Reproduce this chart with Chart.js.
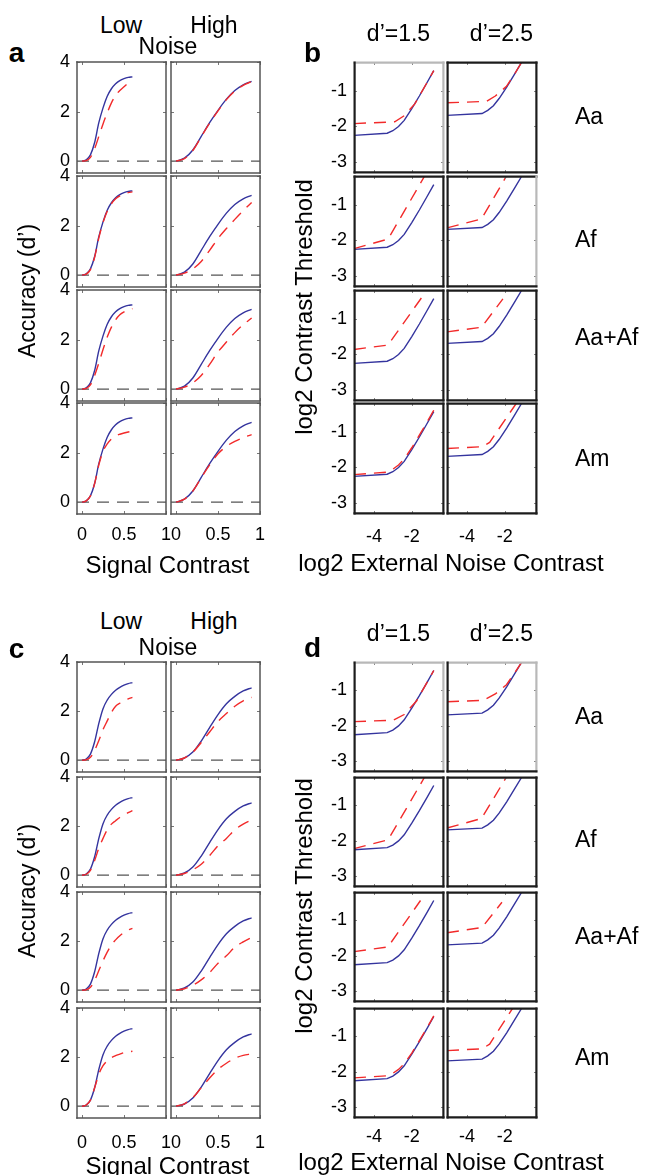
<!DOCTYPE html>
<html>
<head>
<meta charset="utf-8">
<script src="https://cdn.jsdelivr.net/npm/chart.js@4.4.0/dist/chart.umd.min.js"></script>
<style>
  body { margin: 0; background: #fff; }
  #fig { position: relative; width: 646px; height: 1175px; overflow: hidden; background: #fff;
         font-family: 'Liberation Sans', Arial, sans-serif; color: #000; }
  #fig canvas { position: absolute; }
  .t { position: absolute; white-space: nowrap; line-height: 1; transform: translate(-50%, -50%); }
</style>
</head>
<body>
<div id="fig"></div>
<script>
// ---- accuracy panels (a, c): x = signal contrast, y = d'
const sigLowX  = [0, 0.05, 0.1, 0.15, 0.2, 0.25, 0.3, 0.35, 0.4, 0.45, 0.5, 0.55, 0.6];
const sigHighX = [0, 0.1, 0.2, 0.3, 0.4, 0.5, 0.6, 0.7, 0.8, 0.9];

const aBlueLow  = [0, 0.05, 0.25, 0.75, 1.55, 2.15, 2.62, 2.92, 3.12, 3.25, 3.33, 3.38, 3.4];
const aBlueHigh = [0, 0.12, 0.45, 1.0, 1.55, 2.05, 2.5, 2.85, 3.08, 3.22];

const aRedLowAa    = [0, 0.02, 0.15, 0.5, 1.0, 1.5, 1.95, 2.35, 2.65, 2.85, 3.0, 3.15, 3.25];
const aRedHighAa   = [0, 0.1, 0.43, 0.98, 1.53, 2.03, 2.48, 2.83, 3.06, 3.21];
const aRedLowAf    = [0, 0.04, 0.22, 0.72, 1.5, 2.12, 2.58, 2.88, 3.08, 3.2, 3.28, 3.33, 3.36];
const aRedHighAf   = [0, 0.08, 0.25, 0.55, 1.0, 1.48, 1.88, 2.25, 2.6, 2.93];
const aRedLowAaAf  = [0, 0.03, 0.17, 0.55, 1.05, 1.6, 2.1, 2.5, 2.8, 3.0, 3.12, 3.2, 3.25];
const aRedHighAaAf = [0, 0.08, 0.25, 0.55, 1.0, 1.5, 1.9, 2.28, 2.6, 2.87];
const aRedLowAm    = [0, 0.05, 0.25, 0.75, 1.5, 2.05, 2.35, 2.55, 2.67, 2.74, 2.79, 2.83, 2.86];
const aRedHighAm   = [0, 0.12, 0.45, 0.98, 1.5, 1.95, 2.25, 2.45, 2.6, 2.72];

const cBlueLow  = [0, 0.05, 0.25, 0.75, 1.5, 2.1, 2.45, 2.68, 2.85, 2.97, 3.06, 3.12, 3.16];
const cBlueHigh = [0, 0.09, 0.33, 0.78, 1.33, 1.86, 2.3, 2.6, 2.82, 2.95];

const cRedLowAa    = [0, 0.02, 0.12, 0.4, 0.8, 1.25, 1.6, 1.95, 2.2, 2.32, 2.42, 2.5, 2.56];
const cRedHighAa   = [0, 0.09, 0.33, 0.72, 1.15, 1.58, 1.9, 2.2, 2.42, 2.56];
const cRedLowAf    = [0, 0.04, 0.2, 0.6, 1.1, 1.5, 1.85, 2.08, 2.22, 2.35, 2.45, 2.55, 2.63];
const cRedHighAf   = [0, 0.07, 0.22, 0.45, 0.8, 1.2, 1.5, 1.85, 2.08, 2.25];
const cRedLowAaAf  = [0, 0.02, 0.12, 0.4, 0.8, 1.2, 1.55, 1.85, 2.05, 2.22, 2.35, 2.45, 2.52];
const cRedHighAaAf = [0, 0.06, 0.2, 0.42, 0.72, 1.1, 1.4, 1.75, 1.97, 2.15];
const cRedLowAm    = [0, 0.05, 0.25, 0.75, 1.3, 1.65, 1.85, 1.98, 2.06, 2.12, 2.18, 2.21, 2.24];
const cRedHighAm   = [0, 0.1, 0.35, 0.75, 1.15, 1.5, 1.75, 1.95, 2.07, 2.13];

// ---- threshold panels (b, d): [log2 noise contrast, log2 threshold]
const thrBlue15 = [[-5.05, -2.25], [-3.3, -2.19], [-3.0, -2.12], [-2.7, -2.0], [-2.4, -1.83], [-2.0, -1.5], [-1.6, -1.15], [-1.2, -0.78], [-0.84, -0.44]];
const thrBlue25 = [[-5.05, -1.69], [-3.2, -1.64], [-2.9, -1.55], [-2.6, -1.42], [-2.3, -1.22], [-1.9, -0.9], [-1.5, -0.55], [-1.1, -0.2]];

const bRedAa15   = [[-5.05, -1.92], [-2.9, -1.87], [-2.4, -1.7], [-1.84, -1.37], [-1.2, -0.78], [-0.84, -0.44]];
const bRedAa25   = [[-5.05, -1.34], [-2.96, -1.3], [-2.5, -1.15], [-1.91, -0.88], [-1.5, -0.55], [-1.1, -0.2]];
const bRedAf15   = [[-5.05, -2.23], [-3.25, -1.96], [-1.32, -0.2]];
const bRedAf25   = [[-5.05, -1.65], [-3.23, -1.4], [-1.91, -0.2]];
const bRedAaAf15 = [[-5.05, -1.86], [-3.26, -1.74], [-1.49, -0.42]];
const bRedAaAf25 = [[-5.05, -1.37], [-3.23, -1.24], [-2.1, -0.45]];
const bRedAm15   = [[-5.05, -2.2], [-3.3, -2.13], [-3.0, -2.05], [-2.7, -1.93], [-2.4, -1.76], [-2.0, -1.45], [-1.6, -1.1], [-1.2, -0.74], [-0.84, -0.4]];
const bRedAm25   = [[-5.05, -1.47], [-3.2, -1.42], [-2.8, -1.3], [-1.38, -0.2]];

const dRedAa15   = [[-5.05, -1.88], [-2.98, -1.84], [-2.4, -1.68], [-1.75, -1.3], [-1.2, -0.78], [-0.84, -0.44]];
const dRedAa25   = [[-5.05, -1.32], [-3.14, -1.28], [-2.5, -1.1], [-1.91, -0.84], [-1.5, -0.52], [-1.1, -0.2]];
const dRedAf15   = [[-5.05, -2.22], [-3.25, -1.97], [-1.32, -0.2]];
const dRedAf25   = [[-5.05, -1.64], [-3.23, -1.37], [-1.91, -0.2]];
const dRedAaAf15 = [[-5.05, -1.88], [-3.26, -1.75], [-1.54, -0.44]];
const dRedAaAf25 = [[-5.05, -1.35], [-3.2, -1.2], [-2.15, -0.49]];
const dRedAm15   = [[-5.05, -2.17], [-3.3, -2.11], [-3.0, -2.04], [-2.7, -1.93], [-2.4, -1.77], [-2.0, -1.47], [-1.6, -1.12], [-1.2, -0.76], [-0.84, -0.42]];
const dRedAm25   = [[-5.05, -1.4], [-3.2, -1.35], [-2.8, -1.22], [-1.58, -0.2]];

// tick labels
const accYTicks = [0, 2, 4];
const sigXTicks = [0, 0.5, 1];
const thrYTicks = [-3, -2, -1];
const noiseXTicks = [-4, -2];
const rowNames = ['Aa', 'Af', 'Aa+Af', 'Am'];

// ---- layout
const SIG_MIN = -0.06, SIG_MAX = 1.0, ACC_MIN = -0.48, ACC_MAX = 4;
const NOISE_MIN = -5.05, NOISE_MAX = -0.3, THR_MIN = -3.3, THR_MAX = -0.2;
const PADL = 45, PADR = 10, PADT = 12, PADB = 40;
const BLUE = '#34349e', RED = '#f22a2a';

const fig = document.getElementById('fig');
Chart.defaults.font.family = "'Liberation Sans', Arial, sans-serif";
Chart.defaults.color = '#000';

const framePlugin = {
    id: 'frame',
    afterDatasetsDraw(chart, args, o) {
        const { ctx, chartArea: a, scales } = chart;
        ctx.save();
        ctx.strokeStyle = o.tickColor;
        ctx.lineWidth = 1;
        ctx.beginPath();
        scales.x.ticks.forEach(t => {
            const p = Math.round(scales.x.getPixelForValue(t.value)) + 0.5;
            ctx.moveTo(p, a.bottom); ctx.lineTo(p, a.bottom - 3);
            ctx.moveTo(p, a.top); ctx.lineTo(p, a.top + 3);
        });
        scales.y.ticks.forEach(t => {
            const p = Math.round(scales.y.getPixelForValue(t.value)) + 0.5;
            ctx.moveTo(a.left, p); ctx.lineTo(a.left + 3, p);
            ctx.moveTo(a.right, p); ctx.lineTo(a.right - 3, p);
        });
        ctx.stroke();
        ctx.lineWidth = o.width;
        ctx.lineCap = 'square';
        const i = o.inset;
        const L = a.left + i, T = a.top + i, R = a.right - i, B = a.bottom - i;
        const sides = [
            [o.colors[1], L, T, R, T],
            [o.colors[2], R, T, R, B],
            [o.colors[0], L, T, L, B],
            [o.colors[3], L, B, R, B]
        ];
        sides.forEach(([c, x1, y1, x2, y2]) => {
            ctx.strokeStyle = c;
            ctx.beginPath(); ctx.moveTo(x1, y1); ctx.lineTo(x2, y2); ctx.stroke();
        });
        ctx.restore();
    }
};

function makePlot(p) {
    const cv = document.createElement('canvas');
    const W = p.w + PADL + PADR, H = p.h + PADT + PADB;
    cv.width = W; cv.height = H;
    cv.style.width = W + 'px'; cv.style.height = H + 'px';
    cv.style.left = (p.left - PADL) + 'px';
    cv.style.top = (p.top - PADT) + 'px';
    fig.appendChild(cv);
    new Chart(cv, {
        type: 'line',
        data: { datasets: p.datasets },
        options: {
            responsive: false,
            animation: false,
            events: [],
            layout: { padding: { left: 0, right: PADR, top: PADT, bottom: 0 } },
            elements: { point: { radius: 0 }, line: { tension: 0 } },
            plugins: {
                legend: { display: false },
                tooltip: { enabled: false },
                frame: { width: p.frameWidth, colors: p.frameColors, tickColor: p.tickColor, inset: p.inset }
            },
            scales: {
                x: {
                    type: 'linear', min: p.xMin, max: p.xMax,
                    grid: { display: false, drawTicks: false },
                    border: { display: false },
                    afterBuildTicks: s => { s.ticks = p.xTicks.map(v => ({ value: v })); },
                    afterFit: s => { s.height = PADB; s.paddingLeft = 0; s.paddingRight = 0; },
                    ticks: { display: p.showX, padding: p.xPad, font: { size: 18 }, color: '#000',
                             maxRotation: 0, autoSkip: false, callback: v => String(v) }
                },
                y: {
                    type: 'linear', min: p.yMin, max: p.yMax,
                    grid: { display: false, drawTicks: false },
                    border: { display: false },
                    afterBuildTicks: s => { s.ticks = p.yTicks.map(v => ({ value: v })); },
                    afterFit: s => { s.width = PADL; s.paddingTop = 0; s.paddingBottom = 0; },
                    ticks: { display: p.showY, padding: 7, font: { size: 18 }, color: '#000',
                             autoSkip: false, callback: v => String(v) }
                }
            }
        },
        plugins: [framePlugin]
    });
}

function curve(xs, ys, color, dashed) {
    return {
        data: xs.map((x, i) => ({ x: x, y: ys[i] })),
        borderColor: color, borderWidth: 1.4, fill: false,
        borderDash: dashed ? [12, 8] : [],
        cubicInterpolationMode: 'monotone'
    };
}

function polyline(pairs, color, dashed) {
    return {
        data: pairs.map(([x, y]) => ({ x: x, y: y })),
        borderColor: color, borderWidth: 1.4, fill: false,
        borderDash: dashed ? [12, 8] : []
    };
}

function accuracyPanel(rows, h, blues, reds, xPad) {
    const cols = [77, 171];
    rows.forEach((top, r) => {
        cols.forEach((left, c) => {
            const xs = c === 0 ? sigLowX : sigHighX;
            makePlot({
                left: left, top: top, w: 89, h: h,
                xMin: SIG_MIN, xMax: SIG_MAX, yMin: ACC_MIN, yMax: ACC_MAX,
                xTicks: sigXTicks, yTicks: accYTicks,
                showX: r === 3, showY: c === 0, xPad: xPad,
                frameWidth: 1.5, frameColors: ['#555', '#555', '#555', '#555'], tickColor: '#777', inset: 0,
                datasets: [
                    curve(xs, reds[r][c], RED, true),
                    curve(xs, blues[c], BLUE, false),
                    { data: [{ x: SIG_MIN, y: 0 }, { x: SIG_MAX, y: 0 }], borderColor: '#555',
                      borderWidth: 1.3, borderDash: [12, 8] }
                ]
            });
        });
    });
}

function thresholdPanel(rows, h, reds, frames, xPad) {
    const cols = [354, 447];
    const blues = [thrBlue15, thrBlue25];
    rows.forEach((top, r) => {
        cols.forEach((left, c) => {
            makePlot({
                left: left, top: top, w: 90, h: h,
                xMin: NOISE_MIN, xMax: NOISE_MAX, yMin: THR_MIN, yMax: THR_MAX,
                xTicks: noiseXTicks, yTicks: thrYTicks,
                showX: r === 3, showY: c === 0, xPad: xPad,
                frameWidth: 2.2, frameColors: frames[r][c], tickColor: '#888', inset: 0.6,
                datasets: [
                    polyline(reds[r][c], RED, true),
                    polyline(blues[c], BLUE, false)
                ]
            });
        });
    });
}

const K = '#1c1c1c', G = '#b8b8b8';
const dark = [K, K, K, K];

accuracyPanel([62, 176, 290, 403], 111, [aBlueLow, aBlueHigh],
    [[aRedLowAa, aRedHighAa], [aRedLowAf, aRedHighAf], [aRedLowAaAf, aRedHighAaAf], [aRedLowAm, aRedHighAm]], 10);
accuracyPanel([662, 777, 892, 1008], 110, [cBlueLow, cBlueHigh],
    [[cRedLowAa, cRedHighAa], [cRedLowAf, cRedHighAf], [cRedLowAaAf, cRedHighAaAf], [cRedLowAm, cRedHighAm]], 14);

thresholdPanel([62, 176, 290, 403], 111,
    [[bRedAa15, bRedAa25], [bRedAf15, bRedAf25], [bRedAaAf15, bRedAaAf25], [bRedAm15, bRedAm25]],
    [[[K, G, G, K], dark], [dark, [K, K, G, K]], [dark, dark], [dark, dark]], 12);
thresholdPanel([662, 777, 892, 1008], 110,
    [[dRedAa15, dRedAa25], [dRedAf15, dRedAf25], [dRedAaAf15, dRedAaAf25], [dRedAm15, dRedAm25]],
    [[[K, G, G, K], [K, G, G, K]], [dark, dark], [dark, dark], [dark, dark]], 8);

// ---- text
function addText(txt, x, y, size, extra) {
    const d = document.createElement('div');
    d.className = 't';
    d.textContent = txt;
    d.style.left = x + 'px';
    d.style.top = y + 'px';
    d.style.fontSize = size + 'px';
    if (extra) Object.assign(d.style, extra);
    fig.appendChild(d);
}
const ROT = { transform: 'translate(-50%, -50%) rotate(-90deg)' };
const LEFT = { transform: 'translate(0, -50%)' };
const BOLD = { fontWeight: 'bold' };

[[0, 'a', 'b'], [600, 'c', 'd']].forEach(([dy, la, lb]) => {
    addText(la, 16.5, 53 + dy - (dy ? 4 : 0), 28, BOLD);
    addText(lb, 312.5, 53 + dy - (dy ? 5 : 0), 28, BOLD);
    addText('Low', 121, 25 + dy - (dy ? 4 : 0), 23);
    addText('High', 214, 25 + dy - (dy ? 4 : 0), 23);
    addText('Noise', 168, 46 + dy + (dy ? 1 : 0), 23);
    addText('Accuracy (d\u2019)', 27, 291 + dy, 23, ROT);
    addText('d\u2019=1.5', 398.5, 33 + dy, 23);
    addText('d\u2019=2.5', 501.5, 33 + dy, 23);
    addText('log2 Contrast Threshold', 304, 307 + dy - (dy ? 1 : 0), 24, ROT);
});
addText('Signal Contrast', 167.5, 565, 24);
addText('Signal Contrast', 167.5, 1166, 24);
addText('log2 External Noise Contrast', 451, 563, 24);
addText('log2 External Noise Contrast', 451, 1162, 24);
[116, 239, 336.5, 458].forEach((y, i) => addText(rowNames[i], 575, y, 23, LEFT));
[716, 839, 936, 1057].forEach((y, i) => addText(rowNames[i], 575, y, 23, LEFT));
</script>
</body>
</html>
